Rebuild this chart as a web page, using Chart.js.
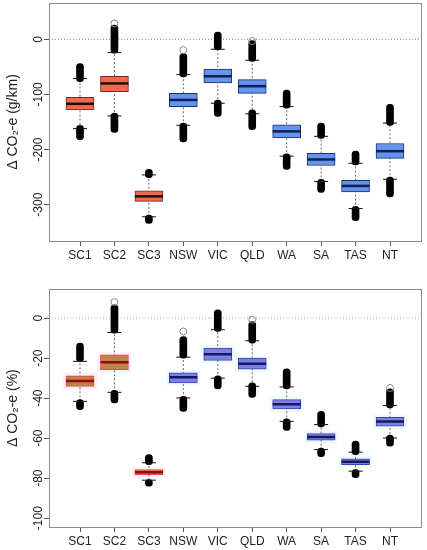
<!DOCTYPE html>
<html lang="en">
<head>
<meta charset="UTF-8" />
<title>Change in CO2-e by scenario and state</title>
<script src="https://cdn.jsdelivr.net/npm/chart.js"></script>
<style>
  body { margin: 0; background: #fff; overflow: hidden; }
  .panel { width: 427px; height: 275px; }
  canvas { display: block; }
</style>
</head>
<body>
<div class="panel"><canvas id="topChart" width="427" height="275"></canvas></div>
<div class="panel"><canvas id="bottomChart" width="427" height="275"></canvas></div>

<script>
const categories = ["SC1", "SC2", "SC3", "NSW", "VIC", "QLD", "WA", "SA", "TAS", "NT"];
const groups = ["sc", "sc", "sc", "st", "st", "st", "st", "st", "st", "st"];

// top panel, g/km
const topYTicks = [0, -100, -200, -300];
const topQ1 = [-128, -95, -294, -122, -79, -98, -179, -229, -277, -216];
const topMed = [-117, -80, -285, -110, -67, -85, -167, -218, -266, -203];
const topQ3 = [-105, -67, -275, -98, -54, -73, -155, -207, -256, -189];
const topWhiskLo = [-162, -139, -322, -156, -116, -135, -212, -258, -307, -254];
const topWhiskHi = [-71, -24, -246, -64, -18, -38, -122, -176, -225, -152];
const topOutLo = [[-182, -156], [-169, -134], [-334, -319], [-186, -152], [-140, -110],
                  [-164, -128], [-236, -208], [-278, -254], [-329, -303], [-286, -250]];
const topOutHi = [[-77, -44], [-25, 26], [-251, -236], [-68, -26], [-19, 13],
                  [-40, -2], [-125, -92], [-180, -152], [-228, -203], [-156, -118]];
const topLoners = [null, 29, null, -19.5, null, -3, null, null, null, null];

// bottom panel, %
const botYTicks = [0, -20, -40, -60, -80, -100];
const botQ1 = [-34.1, -25.8, -78.2, -32.4, -21.1, -25.5, -45.4, -61, -73.2, -54];
const botMed = [-31.4, -22.1, -77, -29.6, -18, -22.8, -43.1, -59.4, -71.8, -51.7];
const botQ3 = [-28.8, -18.3, -75.7, -27.4, -15, -20, -40.7, -57.7, -70.3, -49.6];
const botWhiskLo = [-41.6, -37.1, -81, -39.9, -30, -34.1, -51.6, -65.7, -76.5, -59.9];
const botWhiskHi = [-21.6, -7.2, -72.3, -19.5, -5.8, -11.3, -34.4, -53.2, -67, -43.7];
const botOutLo = [[-45.7, -40.7], [-42.4, -36.1], [-84, -80.7], [-46.6, -39.1], [-35.4, -28.8],
                  [-39.6, -32.4], [-56.1, -50.4], [-69.3, -64.9], [-79.8, -75.7], [-64, -58.5]];
const botOutHi = [[-21.6, -12.5], [-7.5, 6.6], [-73.2, -68.2], [-20, -9.2], [-6.7, 4.1],
                  [-12.5, -1.7], [-35.4, -25.4], [-54.4, -46.6], [-68.2, -61.5], [-44.9, -35.4]];
const botLoners = [null, 8, null, -6.7, null, -0.8, null, null, null, -34.9];

const FONT = "'Liberation Sans', Arial, Helvetica, sans-serif";
Chart.defaults.font.family = FONT;
Chart.defaults.color = "#222";

const X_MIN = 0.1, X_MAX = 10.9;
const xs = categories.map((c, i) => i + 1);

// plain frame round the plotting region, like R's box()
const frame = {
  id: "frame",
  afterDatasetsDraw(chart) {
    const a = chart.chartArea, ctx = chart.ctx;
    ctx.save();
    ctx.strokeStyle = "#8c8c8c";
    ctx.lineWidth = 1;
    ctx.strokeRect(Math.round(a.left) + 0.5, Math.round(a.top) + 0.5,
                   Math.round(a.right - a.left), Math.round(a.bottom - a.top));
    ctx.restore();
  }
};

// y tick labels turned to run along the axis, R style
const sideLabels = {
  id: "sideLabels",
  afterDraw(chart) {
    const s = chart.scales.y, ctx = chart.ctx;
    ctx.save();
    ctx.font = "12px " + FONT;
    ctx.fillStyle = "#222";
    ctx.textAlign = "center";
    ctx.textBaseline = "middle";
    s.ticks.forEach(t => {
      ctx.save();
      ctx.translate(38.5, s.getPixelForValue(t.value));
      ctx.rotate(-Math.PI / 2);
      ctx.fillText(String(t.value), 0, 0);
      ctx.restore();
    });
    ctx.restore();
  }
};

function boxChart(id, p) {
  const pts = arr => arr.map((v, i) => ({ x: xs[i], y: v }));
  const ranges = arr => arr.map((r, i) => ({ x: xs[i], y: r }));
  const byGroup = c => groups.map(g => c[g]);
  const whisk = [];
  xs.forEach((x, i) => whisk.push({ x, y: p.wLo[i] }, { x, y: p.wHi[i] }, { x, y: null }));

  const ds = [
    { type: "line", data: [{ x: X_MIN, y: 0 }, { x: X_MAX, y: 0 }], borderColor: p.zero,
      borderWidth: 1, borderDash: [1, 2], pointRadius: 0, order: 9 },
    { type: "line", data: whisk, borderColor: "#6a6a6a", borderWidth: 1, borderDash: [2, 2],
      pointRadius: 0, spanGaps: false, order: 7 },
    { type: "bar", data: ranges(p.outLo), backgroundColor: "#000", borderRadius: 4,
      borderSkipped: false, grouped: false, maxBarThickness: 7, categoryPercentage: 1, barPercentage: 1, order: 6 },
    { type: "bar", data: ranges(p.outHi), backgroundColor: "#000", borderRadius: 4,
      borderSkipped: false, grouped: false, maxBarThickness: 7, categoryPercentage: 1, barPercentage: 1, order: 6 },
    { type: "scatter", data: pts(p.wLo).concat(pts(p.wHi)), pointStyle: "line", pointRadius: 7,
      pointBorderWidth: 1, pointBorderColor: "#111", order: 5 },
    { type: "bar", data: xs.map((x, i) => ({ x, y: [p.q1[i], p.q3[i]] })),
      backgroundColor: byGroup(p.fill), borderColor: byGroup(p.edge), borderWidth: 1,
      borderSkipped: false, grouped: false, maxBarThickness: 28, categoryPercentage: 1, barPercentage: 1, order: 3 },
    { type: "scatter", data: pts(p.med), pointStyle: "line", pointRadius: 14,
      pointBorderWidth: 2.5, pointBorderColor: byGroup(p.mid), order: 2 },
    { type: "scatter", data: pts(p.loners), pointStyle: "circle", pointRadius: 3.5,
      pointBorderWidth: 1, pointBorderColor: "#8a8a8a", pointBackgroundColor: "rgba(0,0,0,0)", order: 1 }
  ];
  if (p.halo) {
    ds.push({ type: "bar", data: xs.map((x, i) => ({ x, y: [p.q1[i], p.q3[i]] })),
      backgroundColor: byGroup(p.halo), borderWidth: 0, inflateAmount: 3,
      grouped: false, maxBarThickness: 28, categoryPercentage: 1, barPercentage: 1, order: 8 });
  }

  const tickFont = { size: 12 };
  return new Chart(document.getElementById(id), {
    type: "bar",
    data: { datasets: ds },
    options: {
      responsive: false,
      animation: false,
      events: [],
      layout: { autoPadding: false, padding: { top: p.padTop, right: 6, left: 0, bottom: 0 } },
      plugins: { legend: { display: false }, tooltip: { enabled: false } },
      scales: {
        x: {
          type: "linear", min: X_MIN, max: X_MAX, offset: false,
          afterBuildTicks: s => { s.ticks = xs.map(v => ({ value: v })); },
          afterFit: s => { s.height = p.xAxisH; s.paddingLeft = 0; s.paddingRight = 0; },
          ticks: { callback: v => categories[Math.round(v) - 1], autoSkip: false,
                   maxRotation: 0, padding: 2, font: tickFont, color: "#222" },
          grid: { offset: false, drawOnChartArea: false, drawTicks: true, tickLength: 5, color: "#555" },
          border: { display: false }
        },
        y: {
          type: "linear", min: p.yMin, max: p.yMax,
          afterBuildTicks: s => { s.ticks = p.yTicks.map(v => ({ value: v })); },
          afterFit: s => { s.width = 49; s.paddingTop = 0; s.paddingBottom = 0; },
          ticks: { display: false },
          grid: { drawOnChartArea: false, drawTicks: true, tickLength: 5, color: "#555" },
          border: { display: false },
          title: { display: true, text: p.title, font: { size: 14 }, color: "#222",
                   padding: { top: 4.6, bottom: 0 } }
        }
      }
    },
    plugins: [frame, sideLabels]
  });
}

boxChart("topChart", {
  title: "\u0394 CO\u2082-e (g/km)", yMin: -366, yMax: 66, yTicks: topYTicks,
  padTop: 3, xAxisH: 34,
  q1: topQ1, med: topMed, q3: topQ3, wLo: topWhiskLo, wHi: topWhiskHi,
  outLo: topOutLo, outHi: topOutHi, loners: topLoners,
  zero: "#e8605a",
  fill: { sc: "#f4674b", st: "#6495ed" },
  edge: { sc: "#6e2a1c", st: "#1f2f6a" },
  mid: { sc: "#141414", st: "#131d55" }
});

boxChart("bottomChart", {
  title: "\u0394 CO\u2082-e (%)", yMin: -104.4, yMax: 14.4, yTicks: botYTicks,
  padTop: 14.3, xAxisH: 23,
  q1: botQ1, med: botMed, q3: botQ3, wLo: botWhiskLo, wHi: botWhiskHi,
  outLo: botOutLo, outHi: botOutHi, loners: botLoners,
  zero: "#d39a78",
  fill: { sc: "#bf8249", st: "#7f80e6" },
  edge: { sc: "#e2494a", st: "#3c3fae" },
  mid: { sc: "#8c0d0d", st: "#101a5e" },
  halo: { sc: "#fdeef7", st: "#eefbfc" }
});
</script>
</body>
</html>
